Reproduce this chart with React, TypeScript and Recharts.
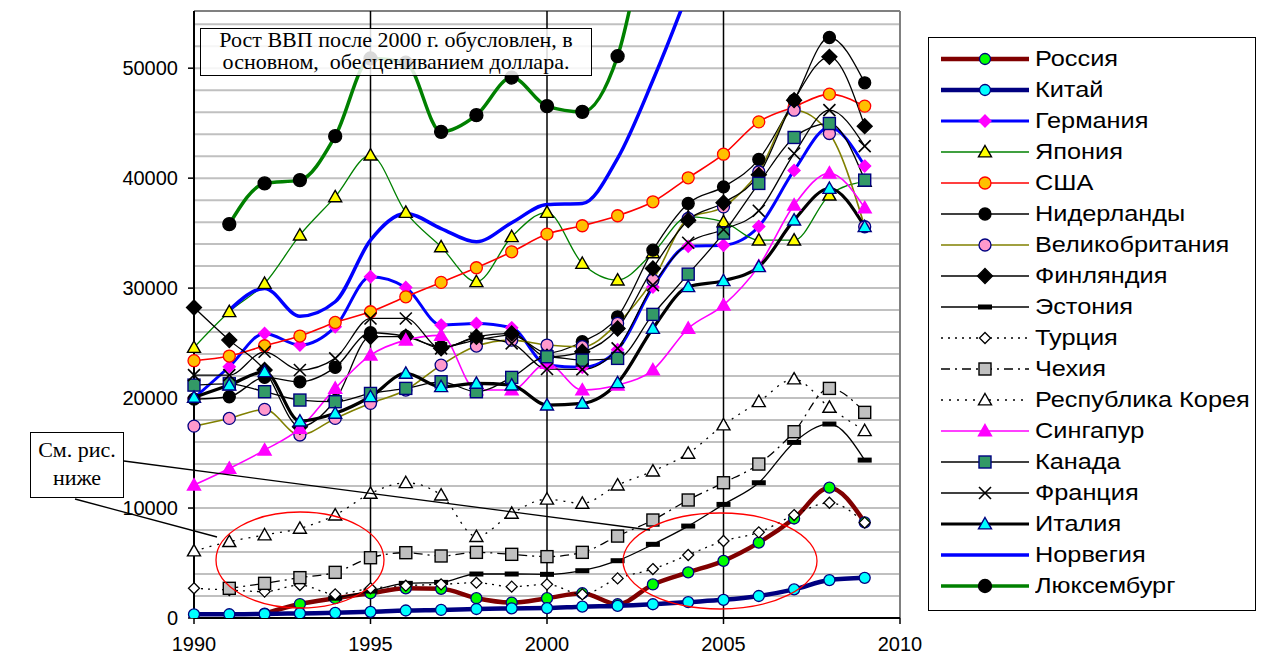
import React from "react";
import { LineChart, Line, XAxis, YAxis, ReferenceLine } from "recharts";

// ── Data (USD per capita) ───────────────────────────────────────────────────

const YEARS = [1990, 1991, 1992, 1993, 1994, 1995, 1996, 1997, 1998, 1999, 2000, 2001, 2002, 2003, 2004, 2005, 2006, 2007, 2008, 2009];

const RUSSIA = [null, null, 400, 1270, 1800, 2250, 2700, 2650, 1800, 1400, 1800, 2250, 1250, 3050, 4150, 5200, 6850, 9050, 11850, 8700];
const CHINA = [330, 340, 360, 420, 470, 560, 680, 730, 820, 870, 900, 1030, 1100, 1250, 1450, 1650, 2000, 2600, 3450, 3650];
const GERMANY = [20000, 22850, 25880, 24820, 26480, 31030, 30060, 26640, 26790, 26390, 23000, 22800, 24400, 30100, 33800, 33900, 35600, 40700, 44600, 41100];
const JAPAN = [24600, 27850, 30420, 34820, 38300, 42090, 36880, 33750, 30580, 34670, 36880, 32240, 30730, 33200, 36480, 36030, 34360, 34360, 38450, 39700];
const USA = [23400, 23820, 24760, 25640, 26880, 27850, 29210, 30520, 31850, 33300, 34910, 35670, 36580, 37850, 40030, 42180, 45120, 46480, 47640, 46550];
const NETHERLANDS = [19900, 20120, 21880, 21480, 22790, 25940, 25600, 24670, 25270, 25730, 24100, 25120, 27390, 33450, 37700, 39210, 41700, 47090, 52790, 48670];
const UK = [17450, 18150, 18970, 16640, 18150, 19520, 20730, 23000, 24730, 25270, 24820, 24670, 26790, 30730, 36330, 37390, 40580, 46180, 44060, 35580];
const FINLAND = [28240, 25270, 22550, 17390, 19800, 25580, 25580, 24520, 25580, 25880, 23760, 24210, 26330, 31790, 36180, 37760, 40300, 47090, 51030, 44730];
const ESTONIA = [null, null, null, null, 1800, 2450, 3150, 3240, 4000, 4000, 3970, 4300, 5210, 6700, 8360, 10330, 12300, 15970, 17640, 14360];
const TURKEY = [2700, 2540, 2400, 3000, 2150, 2700, 2940, 3060, 3210, 2850, 3060, 2150, 3600, 4450, 5730, 7000, 7790, 9360, 10480, 8670];
const CZECH = [null, 2700, 3150, 3670, 4150, 5480, 5940, 5640, 5970, 5790, 5580, 5970, 7450, 8910, 10730, 12300, 14000, 16940, 20880, 18700];
const KOREA = [6090, 6940, 7550, 8150, 9360, 11330, 12300, 11180, 7400, 9510, 10800, 10420, 12090, 13360, 14970, 17550, 19670, 21730, 19150, 17030];
const SINGAPORE = [12090, 13600, 15270, 17240, 20880, 23900, 25270, 25700, 20730, 20730, 23150, 20730, 21180, 22550, 26330, 28450, 32000, 37550, 40450, 37300];
const CANADA = [21180, 21300, 20580, 19820, 19670, 20420, 20880, 21480, 20580, 21880, 23760, 23450, 23610, 27610, 31270, 35000, 39520, 43700, 44970, 39820];
const FRANCE = [22090, 22090, 24210, 22550, 23610, 27240, 27240, 24520, 25420, 24970, 22640, 22610, 24520, 30270, 34120, 35330, 37030, 42240, 46180, 42910];
const ITALY = [20060, 21180, 22390, 17910, 18610, 20120, 22240, 21030, 21330, 21180, 19360, 19520, 21390, 26330, 30120, 30670, 31940, 36180, 39060, 35580];
const NORWAY = [null, 28000, 29970, 27450, 28760, 34360, 36790, 35420, 34210, 35940, 37600, 37700, 41800, 48900, 57000, 66000, 73500, 84000, 95000, 79000];
const LUXEMBOURG = [null, 35820, 39520, 39820, 43820, 50880, 50500, 44210, 45730, 49150, 46550, 46030, 51090, 65000, 75000, 80000, 90000, 106000, 113000, 105000];

const X_TICKS = [1990, 1995, 2000, 2005, 2010];
const X_LINES = [1995, 2000, 2005];
const Y_TICKS = [0, 10000, 20000, 30000, 40000, 50000];
const GRID_VALUES = [2000, 4000, 6000, 8000, 10000, 12000, 14000, 16000, 18000, 20000, 22000, 24000, 26000, 28000, 30000, 32000, 34000, 36000, 38000, 40000, 42000, 44000, 46000, 48000, 50000, 52000, 54000];
const X_MIN = 1990;
const X_MAX = 2010;
const Y_MAX = 55200;

// chart frame (plot area) – the grid underlay uses the same numbers
const CHART_W = 930;
const CHART_H = 659;
const MARGIN = { top: 11, right: 30, bottom: 11, left: 0 };
const Y_AXIS_W = 194;
const X_AXIS_H = 30;
const PLOT_LEFT = MARGIN.left + Y_AXIS_W;
const PLOT_RIGHT = CHART_W - MARGIN.right;
const PLOT_TOP = MARGIN.top;
const PLOT_BOTTOM = CHART_H - MARGIN.bottom - X_AXIS_H;
const gridY = (v: number) => PLOT_BOTTOM - (v / Y_MAX) * (PLOT_BOTTOM - PLOT_TOP);

// ── Series styling ──────────────────────────────────────────────────────────

type Shape = "circle" | "diamond" | "triangle" | "square" | "dash" | "cross" | "none";

interface SeriesDef {
  key: string;
  name: string;
  values: (number | null)[];
  stroke: string;
  width: number;
  dash?: string;
  shape: Shape;
  fill: string;
  edge: string;
  size: number;
}

const SERIES: SeriesDef[] = [
  { key: "russia", name: "Россия", values: RUSSIA, stroke: "#800000", width: 4.5, shape: "circle", fill: "#00ff00", edge: "#000080", size: 11 },
  { key: "china", name: "Китай", values: CHINA, stroke: "#000080", width: 4.5, shape: "circle", fill: "#00ffff", edge: "#000080", size: 11 },
  { key: "germany", name: "Германия", values: GERMANY, stroke: "#0000ff", width: 3, shape: "diamond", fill: "#ff00ff", edge: "#ff00ff", size: 12 },
  { key: "japan", name: "Япония", values: JAPAN, stroke: "#008000", width: 1.3, shape: "triangle", fill: "#ffff00", edge: "#000000", size: 13 },
  { key: "usa", name: "США", values: USA, stroke: "#ff0000", width: 1.6, shape: "circle", fill: "#ffc000", edge: "#ff0000", size: 12 },
  { key: "netherlands", name: "Нидерланды", values: NETHERLANDS, stroke: "#000000", width: 1.3, shape: "circle", fill: "#000000", edge: "#000000", size: 12 },
  { key: "uk", name: "Великобритания", values: UK, stroke: "#808000", width: 1.6, shape: "circle", fill: "#ff99cc", edge: "#000080", size: 12 },
  { key: "finland", name: "Финляндия", values: FINLAND, stroke: "#000000", width: 1.3, shape: "diamond", fill: "#000000", edge: "#000000", size: 15 },
  { key: "estonia", name: "Эстония", values: ESTONIA, stroke: "#000000", width: 1.3, shape: "dash", fill: "#000000", edge: "#000000", size: 14 },
  { key: "turkey", name: "Турция", values: TURKEY, stroke: "#000000", width: 1.3, dash: "2 5", shape: "diamond", fill: "#ffffff", edge: "#000000", size: 11 },
  { key: "czech", name: "Чехия", values: CZECH, stroke: "#000000", width: 1.3, dash: "9 5 2 5", shape: "square", fill: "#c0c0c0", edge: "#000000", size: 12 },
  { key: "korea", name: "Республика Корея", values: KOREA, stroke: "#000000", width: 1.3, dash: "2 6", shape: "triangle", fill: "#ffffff", edge: "#000000", size: 13 },
  { key: "singapore", name: "Сингапур", values: SINGAPORE, stroke: "#ff00ff", width: 1.6, shape: "triangle", fill: "#ff00ff", edge: "#ff00ff", size: 13 },
  { key: "canada", name: "Канада", values: CANADA, stroke: "#000000", width: 1.3, shape: "square", fill: "#339966", edge: "#000080", size: 12 },
  { key: "france", name: "Франция", values: FRANCE, stroke: "#000000", width: 1.3, shape: "cross", fill: "#000000", edge: "#000000", size: 12 },
  { key: "italy", name: "Италия", values: ITALY, stroke: "#000000", width: 3.2, shape: "triangle", fill: "#00ffff", edge: "#000080", size: 13 },
  { key: "norway", name: "Норвегия", values: NORWAY, stroke: "#0000ff", width: 3.5, shape: "none", fill: "none", edge: "none", size: 0 },
  { key: "luxembourg", name: "Люксембург", values: LUXEMBOURG, stroke: "#008000", width: 3.5, shape: "circle", fill: "#000000", edge: "#000000", size: 13 },
];

const rows = YEARS.map((year, i) => {
  const row: Record<string, number | null> = { year };
  SERIES.forEach((s) => {
    row[s.key] = s.values[i];
  });
  return row;
});

// ── Markers ─────────────────────────────────────────────────────────────────

function marker(s: SeriesDef, cx: number, cy: number) {
  const h = s.size / 2;
  switch (s.shape) {
    case "circle":
      return <circle cx={cx} cy={cy} r={h} fill={s.fill} stroke={s.edge} strokeWidth={1.3} />;
    case "diamond":
      return (
        <polygon
          points={`${cx},${cy - h} ${cx + h},${cy} ${cx},${cy + h} ${cx - h},${cy}`}
          fill={s.fill}
          stroke={s.edge}
          strokeWidth={1.3}
        />
      );
    case "triangle":
      return (
        <polygon
          points={`${cx},${cy - h} ${cx + h},${cy + h * 0.75} ${cx - h},${cy + h * 0.75}`}
          fill={s.fill}
          stroke={s.edge}
          strokeWidth={1.4}
        />
      );
    case "square":
      return <rect x={cx - h} y={cy - h} width={s.size} height={s.size} fill={s.fill} stroke={s.edge} strokeWidth={1.4} />;
    case "dash":
      return <rect x={cx - h} y={cy - 2.5} width={s.size} height={5} fill="#000" />;
    case "cross":
      return (
        <g stroke="#000" strokeWidth={1.6}>
          <line x1={cx - h} y1={cy - h} x2={cx + h} y2={cy + h} />
          <line x1={cx - h} y1={cy + h} x2={cx + h} y2={cy - h} />
        </g>
      );
    default:
      return null;
  }
}

const dotFor = (s: SeriesDef) => (p: any) => {
  const k = `${s.key}-${p.index}`;
  if (s.shape === "none" || p.cx == null || p.cy == null || p.value == null) return <g key={k} />;
  return <g key={k}>{marker(s, p.cx, p.cy)}</g>;
};

// ── Legend ──────────────────────────────────────────────────────────────────

function LegendBox() {
  return (
    <div
      style={{
        position: "absolute",
        left: 928,
        top: 37,
        width: 328,
        height: 574,
        border: "1.5px solid #000",
        background: "#fff",
        boxSizing: "border-box",
        paddingTop: 5,
      }}
    >
      {SERIES.map((s) => (
        <div key={s.key} style={{ display: "flex", alignItems: "center", height: 31.06 }}>
          <svg width={96} height={24} style={{ marginLeft: 10, flexShrink: 0 }}>
            <line x1={2} y1={12} x2={90} y2={12} stroke={s.stroke} strokeWidth={s.width} strokeDasharray={s.dash} />
            {marker(s, 46, 12)}
          </svg>
          <span
            style={{
              fontFamily: "'Liberation Sans', Arial, sans-serif",
              fontSize: 22,
              color: "#000",
              whiteSpace: "nowrap",
              display: "inline-block",
              transform: "scaleX(1.15)",
              transformOrigin: "left center",
            }}
          >
            {s.name}
          </span>
        </div>
      ))}
    </div>
  );
}

// ── Chart ───────────────────────────────────────────────────────────────────

const tickStyle = { fontSize: 20, fill: "#000", fontFamily: "'Liberation Sans', Arial, sans-serif" };

export default function App() {
  return (
    <div style={{ position: "absolute", left: 0, top: 0, width: 1262, height: 659, background: "#fff", overflow: "hidden" }}>
      {/* grid underlay: grey lines every 2000 and the grey top frame */}
      <svg width={CHART_W} height={CHART_H} style={{ position: "absolute", left: 0, top: 0 }}>
        {GRID_VALUES.map((v) => (
          <line key={v} x1={PLOT_LEFT} x2={PLOT_RIGHT} y1={gridY(v)} y2={gridY(v)} stroke="#c0c0c0" strokeWidth={2} />
        ))}
        <line x1={PLOT_LEFT} x2={PLOT_RIGHT} y1={PLOT_TOP} y2={PLOT_TOP} stroke="#808080" strokeWidth={2} />
      </svg>

      <LineChart width={CHART_W} height={CHART_H} data={rows} margin={MARGIN}>
        {X_LINES.map((v) => (
          <ReferenceLine key={`v${v}`} x={v} stroke="#000" strokeWidth={1.5} />
        ))}
        <ReferenceLine x={X_MAX} stroke="#808080" strokeWidth={2} />
        <XAxis
          type="number"
          dataKey="year"
          domain={[X_MIN, X_MAX]}
          ticks={X_TICKS}
          tick={tickStyle}
          height={X_AXIS_H}
          axisLine={{ stroke: "#000", strokeWidth: 2 }}
          tickLine={{ stroke: "#000", strokeWidth: 1.5 }}
          tickSize={6}
          tickMargin={13}
          allowDecimals={false}
        />
        <YAxis
          type="number"
          domain={[0, Y_MAX]}
          allowDataOverflow
          ticks={Y_TICKS}
          tick={tickStyle}
          width={Y_AXIS_W}
          axisLine={{ stroke: "#000", strokeWidth: 2 }}
          tickLine={{ stroke: "#000", strokeWidth: 1.5 }}
          tickSize={6}
          tickMargin={10}
        />
        {SERIES.map((s) => (
          <Line
            key={s.key}
            type="monotone"
            dataKey={s.key}
            name={s.name}
            stroke={s.stroke}
            strokeWidth={s.width}
            strokeDasharray={s.dash}
            dot={dotFor(s)}
            activeDot={false}
            connectNulls={false}
            isAnimationActive={false}
          />
        ))}
      </LineChart>

      {/* annotations: callout ellipses and connectors */}
      <svg width={1262} height={659} style={{ position: "absolute", left: 0, top: 0, pointerEvents: "none" }}>
        <ellipse cx={300} cy={560} rx={84} ry={48} fill="none" stroke="#ff0000" strokeWidth={1.3} />
        <ellipse cx={720} cy={561} rx={97} ry={48} fill="none" stroke="#ff0000" strokeWidth={1.3} />
        <line x1={124} y1={461} x2={650} y2={530} stroke="#000" strokeWidth={1.3} />
        <line x1={75} y1={499} x2={217} y2={537} stroke="#000" strokeWidth={1.3} />
      </svg>

      <div
        style={{
          position: "absolute",
          left: 200,
          top: 28,
          width: 392,
          height: 48,
          boxSizing: "border-box",
          border: "1.5px solid #000",
          background: "rgba(255,255,255,0.85)",
          fontFamily: "'Liberation Serif', 'Times New Roman', serif",
          fontSize: 22,
          lineHeight: "22px",
          textAlign: "center",
          whiteSpace: "pre",
        }}
      >
        {"Рост ВВП после 2000 г. обусловлен, в\nосновном,  обесцениванием доллара."}
      </div>

      <div
        style={{
          position: "absolute",
          left: 30,
          top: 432,
          width: 94,
          height: 66,
          boxSizing: "border-box",
          border: "1.5px solid #000",
          background: "#fff",
          fontFamily: "'Liberation Serif', 'Times New Roman', serif",
          fontSize: 22,
          lineHeight: "28px",
          textAlign: "center",
          paddingTop: 3,
        }}
      >
        См. рис.
        <br />
        ниже
      </div>

      <LegendBox />
    </div>
  );
}
